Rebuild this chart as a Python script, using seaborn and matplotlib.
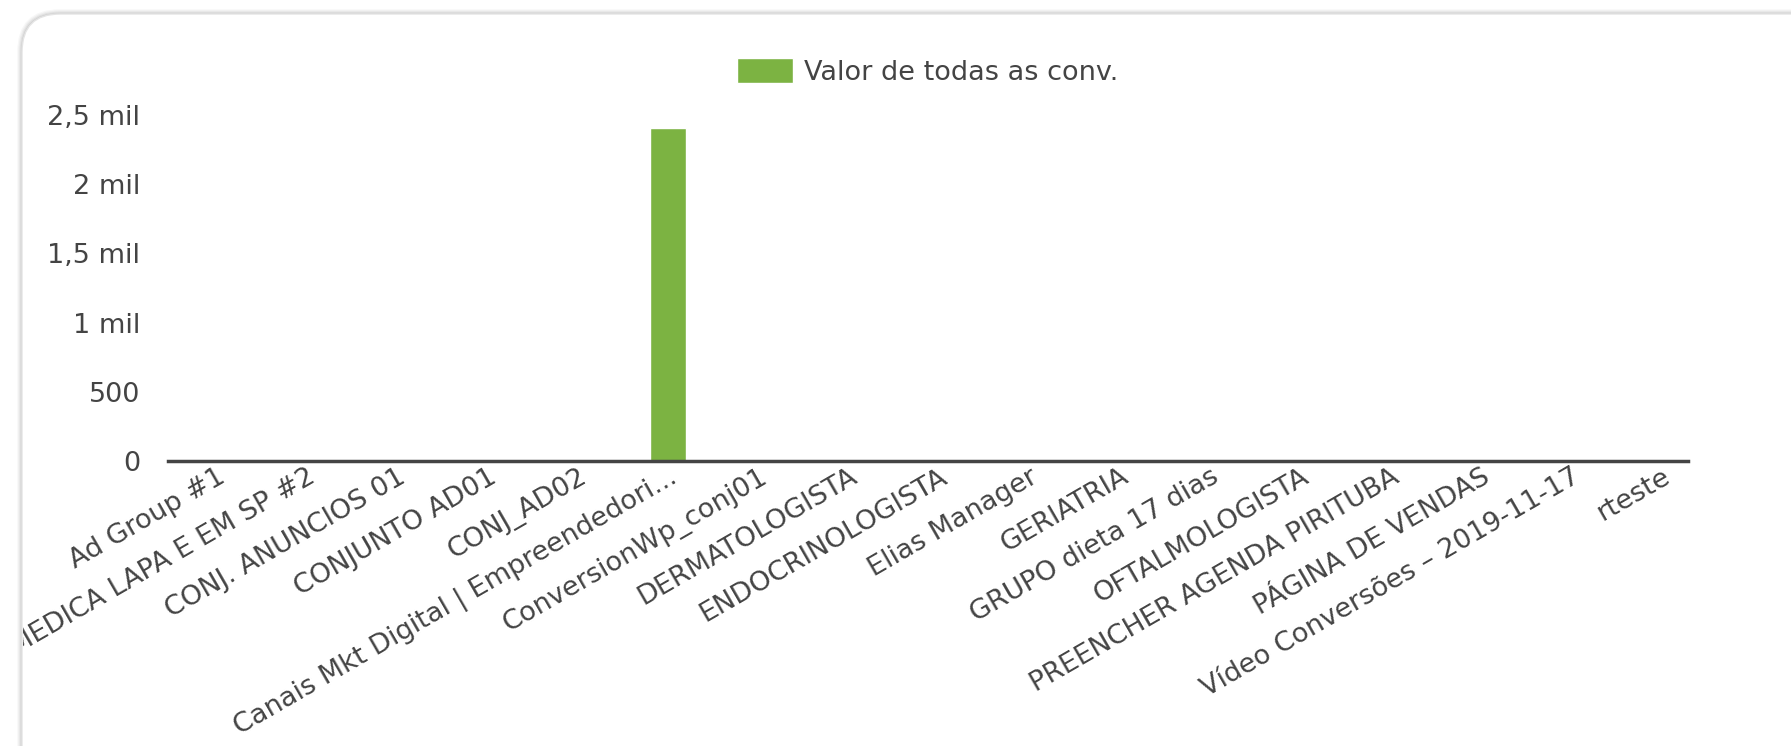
import numpy as np
import pandas as pd
import matplotlib
matplotlib.use("Agg")
import matplotlib.pyplot as plt
import seaborn as sns
from matplotlib.patches import FancyBboxPatch
from matplotlib.ticker import FuncFormatter
from matplotlib.transforms import Bbox

# dados
grupos = [
    "Ad Group #1",
    "CLINICA MEDICA LAPA E EM SP #2",
    "CONJ. ANUNCIOS 01",
    "CONJUNTO AD01",
    "CONJ_AD02",
    "Canais Mkt Digital | Empreendedori...",
    "ConversionWp_conj01",
    "DERMATOLOGISTA",
    "ENDOCRINOLOGISTA",
    "Elias Manager",
    "GERIATRIA",
    "GRUPO dieta 17 dias",
    "OFTALMOLOGISTA",
    "PREENCHER AGENDA PIRITUBA",
    "PÁGINA DE VENDAS",
    "Vídeo Conversões – 2019-11-17",
    "rteste",
]
valores = [0, 0, 0, 0, 0, 2405, 0, 0, 0, 0, 0, 0, 0, 0, 0, 0, 0]
serie = "Valor de todas as conv."

df = pd.DataFrame({"grupo": grupos, "valor": valores, "serie": serie})

sns.set_style("white")
plt.rcParams["font.family"] = ["DejaVu Sans"]
txt = "#444444"
verde = "#7CB342"
fs = 19.5

W, H = 17.91, 7.46
fig = plt.figure(figsize=(W, H), dpi=100)
fig.patch.set_facecolor("white")

# card com sombra
for i, a in enumerate([0.03, 0.04, 0.05, 0.07]):
    d = (4 - i) * 0.012
    sh = FancyBboxPatch((0.22 - d, -1), 20, 8.32 + d,
                        boxstyle="round,pad=0,rounding_size=%f" % (0.38 + d),
                        transform=fig.dpi_scale_trans, facecolor="#000000",
                        edgecolor="none", alpha=a, zorder=0)
    fig.patches.append(sh)
card = FancyBboxPatch((0.22, -1), 20, 8.32, boxstyle="round,pad=0,rounding_size=0.38",
                      transform=fig.dpi_scale_trans, facecolor="white",
                      edgecolor="#e4e4e4", linewidth=1, zorder=1)
fig.patches.append(card)

ax = fig.add_axes([168 / 1791, 1 - 461 / 746, (1688 - 168) / 1791, (461 - 115) / 746])
ax.set_facecolor("none")
ax.set_zorder(2)

sns.barplot(data=df, x="grupo", y="valor", hue="serie", palette=[verde],
            width=0.4, ax=ax, saturation=1)

ax.set_xlim(-0.54, 16.29)
ax.set_ylim(0, 2500)
ax.set_yticks([0, 500, 1000, 1500, 2000, 2500])


def fmt(v, p):
    if v < 1000:
        return "%d" % v
    s = ("%g" % (v / 1000)).replace(".", ",")
    return s + " mil"


ax.yaxis.set_major_formatter(FuncFormatter(fmt))
ax.set_xlabel("")
ax.set_ylabel("")
for s in ["top", "right", "left"]:
    ax.spines[s].set_visible(False)
ax.spines["bottom"].set_color("#444444")
ax.spines["bottom"].set_linewidth(2.5)
ax.tick_params(axis="y", length=0, pad=20, labelsize=fs, labelcolor=txt)
ax.tick_params(axis="x", length=0, pad=2, labelsize=fs, labelcolor=txt)

ax.set_xticks(range(len(grupos)))
ax.set_xticklabels(grupos, rotation=30, ha="right", rotation_mode="anchor")

sns.move_legend(ax, "center", bbox_to_anchor=(0.5, 1 + (115 - 72) / 346),
                frameon=False, title=None, fontsize=fs, handlelength=2.07,
                handleheight=1.04, handletextpad=0.4, labelcolor=txt)

fig.canvas.draw()
# rotulos cortados na borda do card
clip = Bbox.from_extents(23, 0, 1791, 746)
for lab in ax.get_xticklabels():
    lab.set_clip_box(clip)
    lab.set_clip_on(True)

fig.savefig("out.png", dpi=100)
